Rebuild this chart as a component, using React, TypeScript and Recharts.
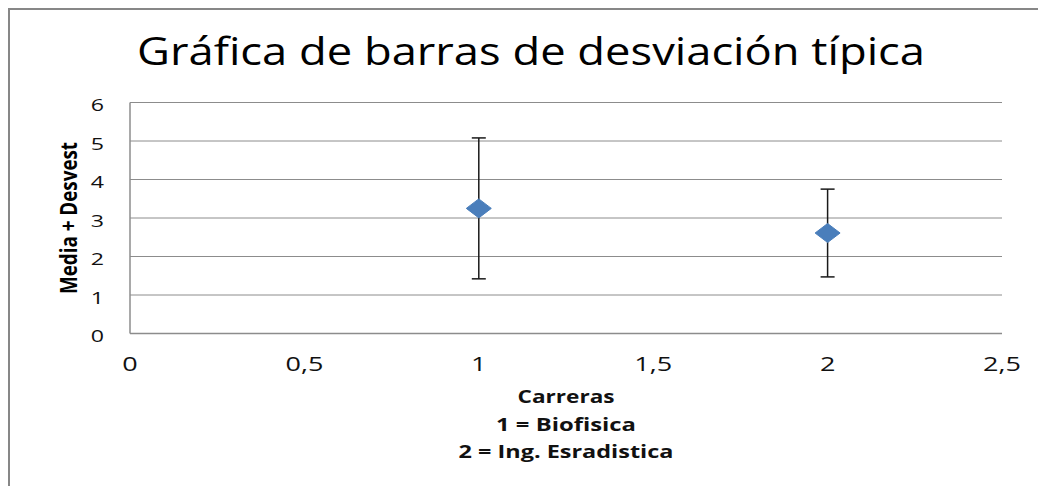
import React from 'react';
import { ScatterChart, Scatter, XAxis, YAxis, CartesianGrid, ErrorBar, Customized } from 'recharts';

const careers = [1, 2];
const means = [3.25, 2.61];
const stdDevs = [1.83, 1.14];
const xTicks = [0, 0.5, 1, 1.5, 2, 2.5];
const yTicks = [0, 1, 2, 3, 4, 5, 6];
const titleText = 'Gráfica de barras de desviación típica';
const yLabelText = 'Media + Desvest';
const xLabelLines = ['Carreras', '1 = Biofisica', '2 = Ing. Esradistica'];
const xLabelLengths = [97, 140, 215];

const data = careers.map((c, i) => ({ x: c, y: means[i], err: stdDevs[i] }));

const FONT = '"Open Sans", "Liberation Sans", sans-serif';

const fmt = (v: number) => String(v).replace('.', ',');

const XTick = (props: any) => {
  const { x, y, payload } = props;
  return (
    <g transform={`translate(${x},${y + 29.5})`}>
      <text transform="scale(1.35,1)" textAnchor="middle" dominantBaseline="central" fontFamily={FONT} fontSize={20} fill="#111">
        {fmt(payload.value)}
      </text>
    </g>
  );
};

const YTick = (props: any) => {
  const { x, y, payload } = props;
  return (
    <g transform={`translate(${x - 26},${y + 2.5})`}>
      <text transform="scale(1.45,1)" textAnchor="end" dominantBaseline="central" fontFamily={FONT} fontSize={16} fill="#111">
        {fmt(payload.value)}
      </text>
    </g>
  );
};

const Diamond = (props: any) => {
  const { cx, cy } = props;
  const hw = 12.5;
  const hh = 9.5;
  return (
    <polygon
      points={`${cx - hw},${cy} ${cx},${cy - hh} ${cx + hw},${cy} ${cx},${cy + hh}`}
      fill="#4A7EBB"
      stroke="#4A7EBB"
      strokeWidth={1}
    />
  );
};

const Title = () => (
  <text
    x={521}
    y={54.5}
    textAnchor="middle"
    fontFamily={FONT}
    fontSize={38}
    textLength={788}
    lengthAdjust="spacingAndGlyphs"
    fill="#000"
  >
    {titleText}
  </text>
);

const YLabel = (props: any) => {
  const vb = props.viewBox || { x: 0, y: 92.5, width: 120, height: 231 };
  const cy = vb.y + vb.height / 2;
  const cx = 57.5;
  return (
    <text
      x={cx}
      y={cy}
      transform={`rotate(-90 ${cx} ${cy})`}
      textAnchor="middle"
      dominantBaseline="central"
      fontFamily={FONT}
      fontWeight="bold"
      fontSize={23}
      textLength={152}
      lengthAdjust="spacingAndGlyphs"
      fill="#000"
    >
      {yLabelText}
    </text>
  );
};

const XLabel = (props: any) => {
  const vb = props.viewBox || { x: 120, y: 323.5, width: 872, height: 30 };
  const cx = vb.x + vb.width / 2;
  const baselines = [393, 421, 448];
  return (
    <g>
      {xLabelLines.map((t, i) => (
        <text
          key={t}
          x={cx}
          y={baselines[i]}
          textAnchor="middle"
          fontFamily={FONT}
          fontWeight="bold"
          fontSize={17.5}
          textLength={xLabelLengths[i]}
          lengthAdjust="spacingAndGlyphs"
          fill="#111"
        >
          {t}
        </text>
      ))}
    </g>
  );
};

export default function App() {
  return (
    <div
      style={{
        width: 1036,
        height: 476,
        borderTop: '2px solid #878787',
        borderLeft: '2px solid #878787',
        background: '#fff',
      }}
    >
      <ScatterChart width={1036} height={476} margin={{ top: 92.5, right: 44, bottom: 122.5, left: 0 }}>
        <CartesianGrid vertical={false} stroke="#8c8c8c" strokeWidth={1} />
        <XAxis
          type="number"
          dataKey="x"
          domain={[0, 2.5]}
          ticks={xTicks}
          interval={0}
          height={30}
          tickLine={false}
          tickSize={0}
          tickMargin={0}
          axisLine={{ stroke: '#8c8c8c', strokeWidth: 1.5 }}
          tick={<XTick />}
          label={<XLabel />}
        />
        <YAxis
          type="number"
          dataKey="y"
          domain={[0, 6]}
          ticks={yTicks}
          interval={0}
          width={120}
          tickLine={false}
          tickSize={0}
          tickMargin={0}
          axisLine={{ stroke: '#8c8c8c', strokeWidth: 1.5 }}
          tick={<YTick />}
          label={<YLabel />}
        />
        <Scatter data={data} dataKey="y" shape={<Diamond />} isAnimationActive={false}>
          <ErrorBar dataKey="err" direction="y" width={7} stroke="#1a1a1a" strokeWidth={1.5} isAnimationActive={false} />
        </Scatter>
        <Customized component={<Title />} />
      </ScatterChart>
    </div>
  );
}
